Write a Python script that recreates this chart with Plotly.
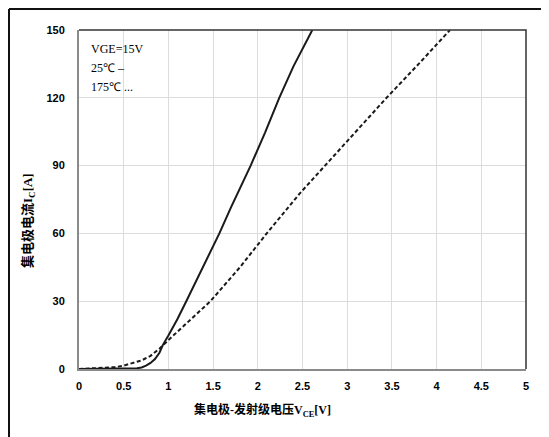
import plotly.graph_objects as go

# 25°C curve (solid)
vce_25 = [0, 0.5, 0.6, 0.65, 0.7, 0.75, 0.8, 0.85, 0.9, 0.94, 1.0, 1.1, 1.2, 1.3, 1.4, 1.57, 1.7, 1.86, 1.92, 2.08, 2.24, 2.4, 2.61]
ic_25 = [0, 0, 0.1, 0.3, 0.7, 1.5, 2.7, 4.4, 7.2, 10.8, 14.8, 22, 30, 38, 46, 60, 71.5, 85, 90, 104.5, 120, 134, 150]

# 175°C curve (dashed)
vce_175 = [0, 0.25, 0.4, 0.5, 0.6, 0.7, 0.8, 0.9, 1.0, 1.1, 1.3, 1.47, 1.8, 2.1, 2.47, 2.75, 3.1, 3.44, 3.8, 4.15]
ic_175 = [0, 0.3, 0.8, 1.5, 2.5, 3.8, 5.8, 9.0, 12.8, 16.5, 23.5, 30, 45, 60, 77.7, 90, 105, 120, 135, 150]

x_ticks = [0, 0.5, 1, 1.5, 2, 2.5, 3, 3.5, 4, 4.5, 5]
x_tick_labels = ["0", "0.5", "1", "1.5", "2", "2.5", "3", "3.5", "4", "4.5", "5"]
y_ticks = [0, 30, 60, 90, 120, 150]

OFF = 8  # default page body margin
W, H = 549 - OFF, 437 - OFF
# plot area in page pixels
L, R, T, B = 79, 526, 30, 369


def px(xp):
    return (xp - L) / (R - L)


def py(yp):
    return (B - yp) / (B - T)


fig = go.Figure()
fig.add_trace(go.Scatter(x=vce_25, y=ic_25, mode="lines", line=dict(color="#1a1a1a", width=2), showlegend=False))
fig.add_trace(go.Scatter(x=vce_175, y=ic_175, mode="lines",
                         line=dict(color="#1a1a1a", width=2, dash="4px,2.5px"), showlegend=False))

tickfont = dict(family="Liberation Sans, Arial", size=11, color="black", weight="bold")
serif = "Liberation Serif, Times New Roman"

fig.update_layout(
    width=W, height=H,
    margin=dict(l=L - OFF, r=549 - R, t=T - OFF, b=437 - B),
    paper_bgcolor="white", plot_bgcolor="white",
    xaxis=dict(range=[0, 5], tickvals=x_ticks, ticktext=x_tick_labels, showgrid=True, gridcolor="#dcdcdc",
               gridwidth=1, zeroline=False, showline=True, linecolor="#8a8a8a", linewidth=2,
               ticks="", tickfont=tickfont, ticklabelstandoff=6, fixedrange=True),
    yaxis=dict(range=[0, 150], tickvals=y_ticks, showgrid=True, gridcolor="#dcdcdc", gridwidth=1,
               zeroline=False, showline=True, linecolor="#8a8a8a", linewidth=2,
               ticks="", tickfont=tickfont, ticklabelstandoff=10, fixedrange=True),
    shapes=[
        # top and right plot border
        dict(type="path", xref="paper", yref="paper", path="M 0 1 L 1 1 L 1 0",
             line=dict(color="#333333", width=1.5)),
        # outer frame (top and left)
        dict(type="line", xref="paper", yref="paper", x0=px(OFF + 1), x1=px(560), y0=py(OFF + 1), y1=py(OFF + 1),
             line=dict(color="#111111", width=2)),
        dict(type="line", xref="paper", yref="paper", x0=px(OFF + 1), x1=px(OFF + 1), y0=py(OFF + 1), y1=py(450),
             line=dict(color="#111111", width=2)),
    ],
    annotations=[
        dict(text="VGE=15V", x=px(89), y=py(49), xref="paper", yref="paper", xanchor="left", yanchor="middle",
             showarrow=False, font=dict(family=serif, size=12, color="black")),
        dict(text="25℃ –", x=px(89), y=py(68), xref="paper", yref="paper", xanchor="left", yanchor="middle",
             showarrow=False, font=dict(family=serif, size=12, color="black")),
        dict(text="175℃ ...", x=px(89), y=py(87), xref="paper", yref="paper", xanchor="left", yanchor="middle",
             showarrow=False, font=dict(family=serif, size=12, color="black")),
        dict(text="集电极电流I<sub>C</sub>[A]", x=px(28), y=py(221), xref="paper", yref="paper",
             xanchor="center", yanchor="middle", textangle=-90, showarrow=False,
             font=dict(family="Liberation Serif, Noto Sans CJK SC", size=13, color="black", weight="bold")),
        dict(text="集电极-发射级电压V<sub>CE</sub>[V]", x=px(262), y=py(410), xref="paper", yref="paper",
             xanchor="center", yanchor="middle", showarrow=False,
             font=dict(family="Liberation Serif, Noto Sans CJK SC", size=12, color="black", weight="bold")),
    ],
)

fig.write_html("out.html")
